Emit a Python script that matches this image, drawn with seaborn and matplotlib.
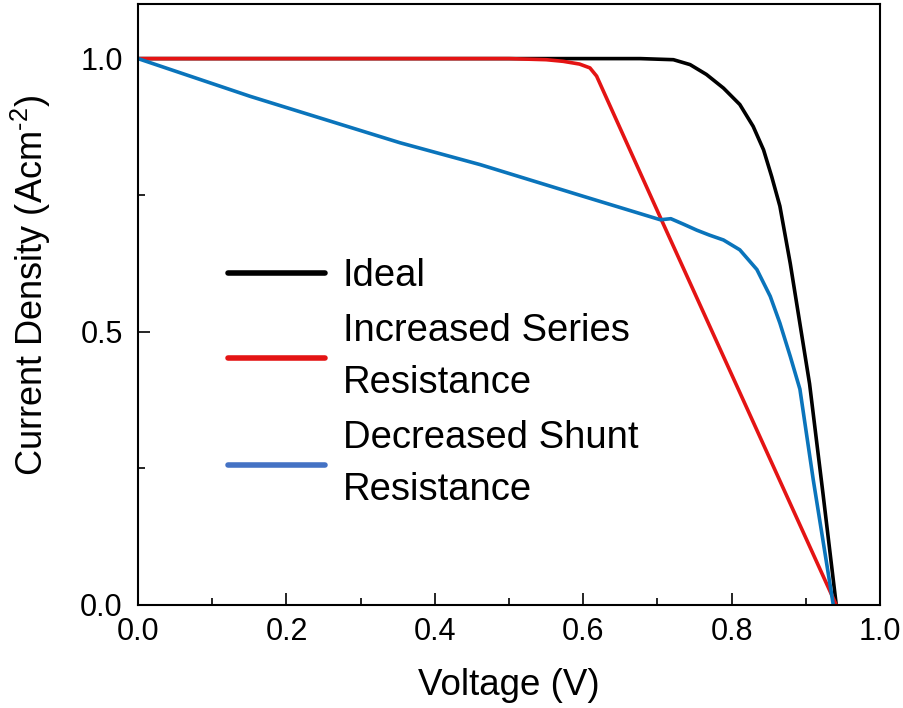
import numpy as np
import pandas as pd
import matplotlib
matplotlib.use("Agg")
import matplotlib.pyplot as plt
from matplotlib.lines import Line2D
import seaborn as sns

# ---- data ----
ideal_v = [0.0, 0.677, 0.7215, 0.744, 0.766, 0.789, 0.811, 0.829, 0.843, 0.854, 0.865,
           0.879, 0.892, 0.905, 0.923, 0.941]
ideal_j = [1.0, 1.0, 0.998, 0.989, 0.971, 0.946, 0.916, 0.876, 0.833, 0.784, 0.730,
           0.625, 0.515, 0.405, 0.205, 0.0]

series_v = [0.0, 0.50, 0.55, 0.573, 0.595, 0.609, 0.618, 0.706, 0.941]
series_j = [1.0, 1.0, 0.998, 0.995, 0.990, 0.983, 0.968, 0.703, 0.0]

shunt_v = [0.0, 0.151, 0.353, 0.461, 0.60, 0.704, 0.718, 0.735, 0.753, 0.770, 0.789, 0.811,
           0.834, 0.852, 0.865, 0.879, 0.892, 0.910, 0.937]
shunt_j = [1.0, 0.931, 0.846, 0.806, 0.748, 0.705, 0.707, 0.697, 0.686, 0.677, 0.668, 0.650,
           0.614, 0.565, 0.516, 0.455, 0.395, 0.229, 0.0]

labels = ["Ideal", "Increased Series\nResistance", "Decreased Shunt\nResistance"]
curve_colors = ["#000000", "#e41414", "#0a74bb"]
legend_colors = ["#000000", "#e41414", "#4472c4"]

x_ticks = [0.0, 0.2, 0.4, 0.6, 0.8, 1.0]
y_ticks = [0.0, 0.5, 1.0]

df = pd.concat([
    pd.DataFrame({"V": ideal_v, "J": ideal_j, "curve": labels[0]}),
    pd.DataFrame({"V": series_v, "J": series_j, "curve": labels[1]}),
    pd.DataFrame({"V": shunt_v, "J": shunt_j, "curve": labels[2]}),
], ignore_index=True)

sns.set_style("ticks")
plt.rcParams["font.family"] = ["Liberation Sans", "DejaVu Sans"]
plt.rcParams["mathtext.fontset"] = "custom"
plt.rcParams["mathtext.rm"] = "Liberation Sans"
plt.rcParams["mathtext.it"] = "Liberation Sans"
plt.rcParams["text.color"] = "black"
plt.rcParams["axes.labelcolor"] = "black"
plt.rcParams["xtick.color"] = "black"
plt.rcParams["ytick.color"] = "black"

fig = plt.figure(figsize=(9.04, 7.08), dpi=100)
ax = fig.add_axes([0.1527, 0.1455, 0.8208, 0.8489])

sns.lineplot(data=df, x="V", y="J", hue="curve", palette=dict(zip(labels, curve_colors)),
             estimator=None, sort=False, linewidth=2.6, legend=False, ax=ax)

ax.set_xlim(0, 1.0)
ax.set_ylim(0, 1.1)
ax.set_xticks(x_ticks)
ax.set_yticks(y_ticks)
ax.set_xticklabels([f"{t:.1f}" for t in x_ticks])
ax.set_yticklabels([f"{t:.1f}" for t in y_ticks])
ax.set_xticks(np.arange(0.1, 1.0, 0.2), minor=True)
ax.set_yticks([0.25, 0.75], minor=True)

for s in ax.spines.values():
    s.set_linewidth(1.5)
    s.set_color("black")

ax.tick_params(which="major", direction="in", length=8.6, width=1.2, labelsize=22,
               top=False, right=False, colors="black")
ax.tick_params(which="minor", direction="in", length=5, width=1.2, top=False, right=False)
ax.tick_params(axis="x", which="major", pad=9)
ax.tick_params(axis="y", which="major", pad=11)

ax.set_xlabel("Voltage (V)", fontsize=26.5, labelpad=15)
ax.set_ylabel(r"Current Density (Acm$^{\text{-2}}$)", fontsize=26)
ax.yaxis.set_label_coords(-0.114, 0.532)

handles = [Line2D([0], [0], color=c, lw=4) for c in legend_colors]
leg = ax.legend(handles, labels, loc="upper left", bbox_to_anchor=(0.121, 0.577), frameon=False,
                fontsize=27.5, handlelength=2.54, handletextpad=0.47, labelspacing=0.5,
                borderpad=0, borderaxespad=0)
for t in leg.get_texts():
    t.set_linespacing(1.56)

fig.savefig("out.png", dpi=100)
